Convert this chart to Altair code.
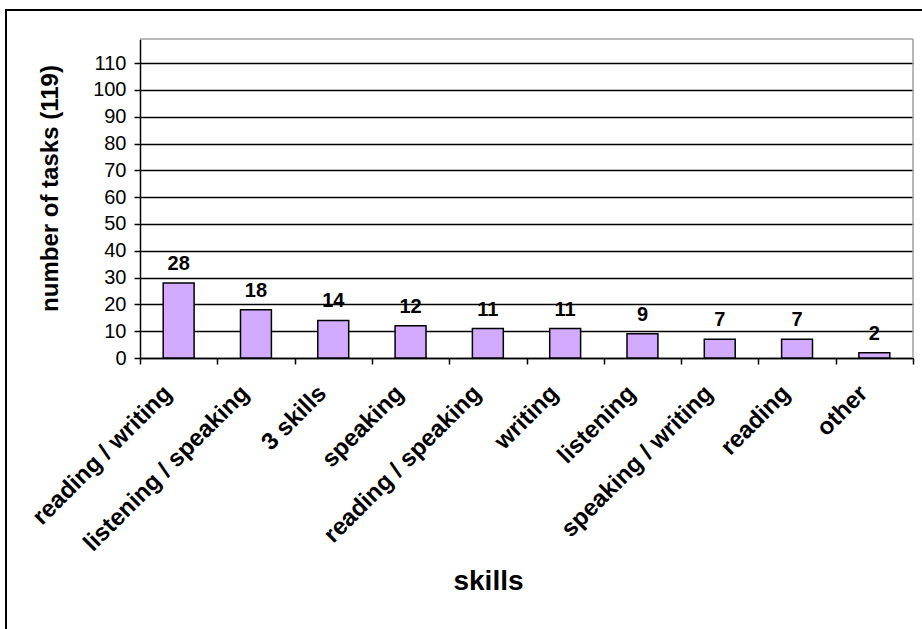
import altair as alt
import pandas as pd

categories = ["reading / writing", "listening / speaking", "3 skills", "speaking",
              "reading / speaking", "writing", "listening", "speaking / writing",
              "reading", "other"]
counts = [28, 18, 14, 12, 11, 11, 9, 7, 7, 2]
total_tasks = 119
y_ticks = list(range(0, 111, 10))
boundaries = list(range(len(categories) + 1))

df = pd.DataFrame({"skill": categories, "count": counts})
bdf = pd.DataFrame({"b": boundaries})
one = pd.DataFrame({"k": [0]})

FONT = "Liberation Sans"
W, H = 773, 319
BAR = "#D2AAFF"

y_axis = alt.Axis(
    values=y_ticks, tickCount=len(y_ticks), title=f"number of tasks ({total_tasks})",
    grid=True, gridColor="black", gridWidth=1.5,
    domainColor="black", domainWidth=1.5,
    tickColor="black", tickSize=6, tickWidth=1.5,
    labelFont=FONT, labelFontSize=20, labelColor="black", labelPadding=8,
    labelOverlap=False,
    titleFont=FONT, titleFontSize=24, titleFontWeight="bold", titleColor="black",
    titleX=-90, titleY=149, titleAngle=270, titleBaseline="middle", titleAlign="center",
)
y_scale = alt.Scale(domain=[0, total_tasks], nice=False, zero=True)

x_axis = alt.Axis(
    title="skills", labelAngle=-45, labelAlign="right", labelBaseline="top",
    labelFont=FONT, labelFontSize=24, labelFontWeight="bold", labelColor="black",
    labelPadding=23, labelOffset=-19, labelLimit=500, labelOverlap=False,
    ticks=False, domain=False, grid=False,
    titleFont=FONT, titleFontSize=28, titleFontWeight="bold", titleColor="black",
    titleX=348, titleY=231, titleBaseline="alphabetic", titleAlign="center",
)
x_scale = alt.Scale(paddingInner=0.6, paddingOuter=0.3)

bars = alt.Chart(df).mark_bar(color=BAR, stroke="black", strokeWidth=1.5).encode(
    x=alt.X("skill:N", sort=categories, scale=x_scale, axis=x_axis),
    y=alt.Y("count:Q", scale=y_scale, axis=y_axis),
)

labels = alt.Chart(df).mark_text(
    dy=-13, baseline="alphabetic", font=FONT, fontSize=20, fontWeight="bold", color="black"
).encode(
    x=alt.X("skill:N", sort=categories, scale=x_scale, axis=x_axis),
    y=alt.Y("count:Q", scale=y_scale, axis=y_axis),
    text="count:Q",
)

ticks = alt.Chart(bdf).mark_point(opacity=0).encode(
    x=alt.X(
        "b:Q",
        scale=alt.Scale(domain=[0, len(categories)], nice=False, zero=False),
        axis=alt.Axis(
            orient="bottom", values=boundaries, labels=False, title=None, grid=False,
            domainColor="black", domainWidth=1.5,
            tickColor="black", tickSize=6, tickWidth=1.5,
        ),
    ),
    y=alt.value(H),
)

top_border = alt.Chart(one).mark_rule(color="#A0A0A0", strokeWidth=1.5).encode(
    x=alt.value(0), x2=alt.value(W), y=alt.value(0)
)
right_border = alt.Chart(one).mark_rule(color="#A0A0A0", strokeWidth=1.5).encode(
    x=alt.value(W), y=alt.value(0), y2=alt.value(H)
)
frame = alt.Chart(one).mark_rect(fillOpacity=0, stroke="black", strokeWidth=2).encode(
    x=alt.value(-134), y=alt.value(-29), x2=alt.value(W + 60), y2=alt.value(H + 320)
)

chart = alt.layer(
    alt.layer(bars, labels),
    ticks,
    top_border,
    right_border,
    frame,
).resolve_scale(x="independent").properties(
    width=W, height=H,
    autosize=alt.AutoSizeParams(type="none"),
    padding={"left": 140, "top": 39, "right": 9, "bottom": 271},
    background="white",
).configure_view(strokeWidth=0)

chart.save("out.html", embed_options={"renderer": "svg", "actions": False})
